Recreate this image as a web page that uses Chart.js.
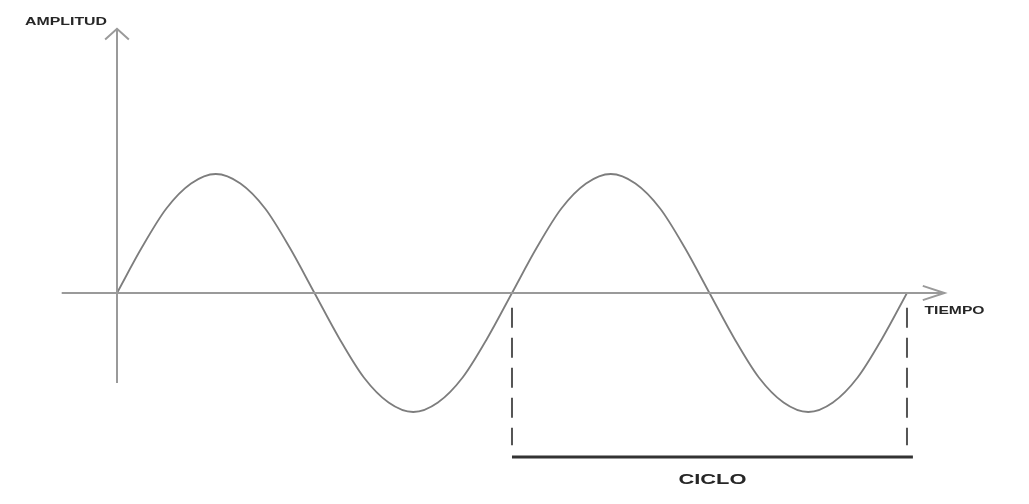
<!DOCTYPE html>
<html>
<head>
<meta charset="utf-8">
<script src="https://cdn.jsdelivr.net/npm/chart.js@4"></script>
<style>
  html, body { margin: 0; padding: 0; background: #fff; }
  #wrap { width: 1029px; height: 504px; position: relative; }
</style>
</head>
<body>
<div id="wrap"><canvas id="onda"></canvas></div>
<script>
// Tiempo en ciclos, amplitud normalizada
const tiempo = [0, 0.0625, 0.125, 0.1875, 0.25, 0.3125, 0.375, 0.4375, 0.5,
  0.5625, 0.625, 0.6875, 0.75, 0.8125, 0.875, 0.9375, 1,
  1.0625, 1.125, 1.1875, 1.25, 1.3125, 1.375, 1.4375, 1.5,
  1.5625, 1.625, 1.6875, 1.75, 1.8125, 1.875, 1.9375, 2];
const amplitud = [0, 0.38, 0.71, 0.92, 1, 0.92, 0.71, 0.38, 0,
  -0.38, -0.71, -0.92, -1, -0.92, -0.71, -0.38, 0,
  0.38, 0.71, 0.92, 1, 0.92, 0.71, 0.38, 0,
  -0.38, -0.71, -0.92, -1, -0.92, -0.71, -0.38, 0];

// ejes
const ejeX = [[-0.14, 0], [2.095, 0]];
const flechaX = [[2.04, 0.06], [2.095, 0], [2.04, -0.06]];
const ejeY = [[0, -0.756], [0, 2.22]];
const flechaY = [[-0.03, 2.13], [0, 2.22], [0.03, 2.13]];

// marcas del ciclo
const cicloInicio = 1;
const cicloFin = 2;
const guiaArriba = -0.125;
const guiaAbajo = -1.28;
const barraNivel = -1.378;
const barraFin = 2.015;

const etiquetas = ['AMPLITUD', 'TIEMPO', 'CICLO'];

function pts(arr) { return arr.map(function(p) { return { x: p[0], y: p[1] }; }); }

const axisStyle = { borderColor: '#9a9a9a', borderWidth: 2, showLine: true, pointRadius: 0, fill: false, tension: 0 };

const textos = {
  id: 'textos',
  afterDraw: function(chart) {
    var ctx = chart.ctx;
    var xs = chart.scales.x, ys = chart.scales.y;
    function txt(s, cx, cy, size, width) {
      ctx.save();
      ctx.font = 'bold ' + size + 'px "Liberation Sans", Arial, sans-serif';
      var w = ctx.measureText(s).width;
      ctx.translate(cx, cy);
      ctx.scale(width / w, 1);
      ctx.fillStyle = '#262626';
      ctx.textAlign = 'center';
      ctx.textBaseline = 'middle';
      ctx.fillText(s, 0, 0);
      ctx.restore();
    }
    txt(etiquetas[0], xs.getPixelForValue(0) - 51, ys.getPixelForValue(2.28), 11, 82);
    txt(etiquetas[1], xs.getPixelForValue(2.095) + 10, ys.getPixelForValue(0) + 18, 11, 60);
    txt(etiquetas[2], (xs.getPixelForValue(cicloInicio) + xs.getPixelForValue(barraFin)) / 2, ys.getPixelForValue(barraNivel) + 23, 14, 68);
  }
};

new Chart(document.getElementById('onda'), {
  type: 'scatter',
  data: {
    datasets: [
      Object.assign({ data: pts(ejeX) }, axisStyle),
      Object.assign({ data: pts(flechaX) }, axisStyle),
      Object.assign({ data: pts(ejeY) }, axisStyle),
      Object.assign({ data: pts(flechaY) }, axisStyle),
      {
        data: tiempo.map(function(t, i) { return { x: t, y: amplitud[i] }; }),
        borderColor: '#7d7d7d', borderWidth: 1.8, showLine: true, pointRadius: 0,
        fill: false, cubicInterpolationMode: 'monotone'
      },
      {
        data: [{ x: cicloInicio, y: guiaArriba }, { x: cicloInicio, y: guiaAbajo }],
        borderColor: '#555', borderWidth: 2, borderDash: [20, 10], showLine: true, pointRadius: 0
      },
      {
        data: [{ x: cicloFin, y: guiaArriba }, { x: cicloFin, y: guiaAbajo }],
        borderColor: '#555', borderWidth: 2, borderDash: [20, 10], showLine: true, pointRadius: 0
      },
      {
        data: [{ x: cicloInicio, y: barraNivel }, { x: barraFin, y: barraNivel }],
        borderColor: '#333', borderWidth: 3, showLine: true, pointRadius: 0
      }
    ]
  },
  options: {
    responsive: true,
    maintainAspectRatio: false,
    animation: false,
    layout: { padding: 0 },
    plugins: { legend: { display: false }, tooltip: { enabled: false } },
    scales: {
      x: { type: 'linear', display: false, min: -0.2962, max: 2.3089 },
      y: { type: 'linear', display: false, min: -1.773, max: 2.462 }
    }
  },
  plugins: [textos]
});
</script>
</body>
</html>
